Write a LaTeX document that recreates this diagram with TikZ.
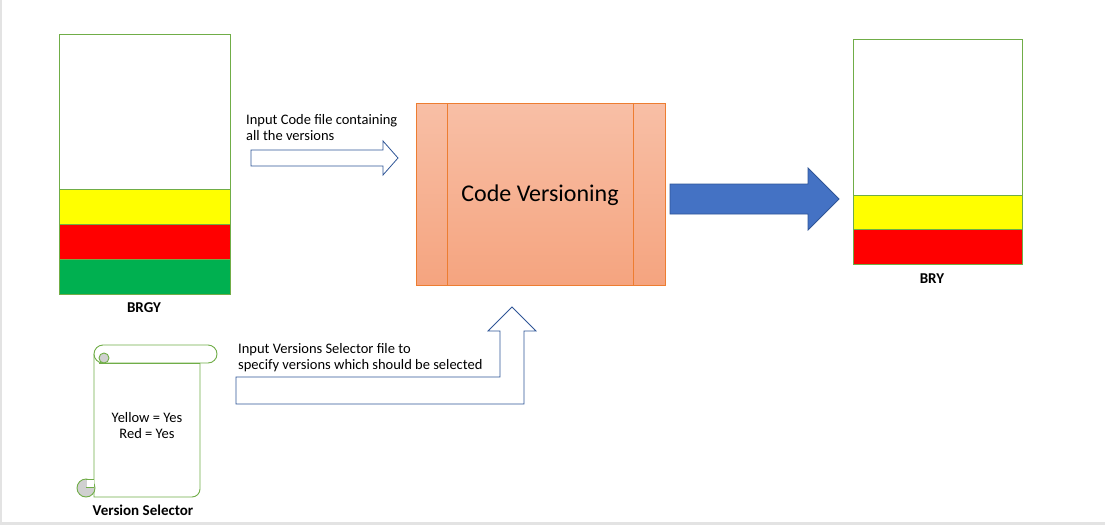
\documentclass[tikz,border=0pt]{standalone}
\usepackage{fontspec}
\setmainfont{Carlito}
\definecolor{boxgreen}{HTML}{70AD47}
\definecolor{cyel}{HTML}{FFFF00}
\definecolor{cred}{HTML}{FF0000}
\definecolor{cgreen}{HTML}{00B050}
\definecolor{procline}{HTML}{ED7D31}
\definecolor{proctop}{HTML}{F8BFA6}
\definecolor{procbot}{HTML}{F5A47F}
\definecolor{blueline}{HTML}{2F5597}
\definecolor{bluefill}{HTML}{4472C4}
\definecolor{curlgray}{HTML}{D0D0D0}
\definecolor{edgegray}{HTML}{E3E3E3}
\begin{document}
\begin{tikzpicture}[x=1pt,y=-1pt,
  filebox/.style={draw=boxgreen,line width=0.8pt},
  band/.style={draw=boxgreen,line width=0.8pt},
  lbl/.style={font=\fontsize{15}{17}\selectfont\bfseries,inner sep=0pt},
  txt/.style={font=\fontsize{14.5}{16}\selectfont,inner sep=0pt,align=left},
  outarrow/.style={draw=blueline,line width=0.8pt,fill=white,line join=miter},
  scrollline/.style={draw=boxgreen,line width=0.9pt}]
\useasboundingbox (0,0) rectangle (1105,525);
\fill[white] (0,0) rectangle (1105,525);
% screenshot edges
\fill[edgegray] (0,0) rectangle (2,525);
\fill[edgegray] (0,522) rectangle (1105,525);

% left file BRGY
\draw[filebox,fill=white] (59,34) rectangle (230,189);
\draw[band,fill=cyel] (59,189) rectangle (230,224);
\draw[band,fill=cred] (59,224) rectangle (230,259);
\draw[band,fill=cgreen] (59,259) rectangle (230,294);
\node[lbl] (brgy) at (144,308) {BRGY};

% right file BRY
\draw[filebox,fill=white] (853,39) rectangle (1022,195);
\draw[band,fill=cyel] (853,195) rectangle (1022,229);
\draw[band,fill=cred] (853,229) rectangle (1022,264);
\node[lbl] (bry) at (932,279) {BRY};

% process box
\shade[top color=proctop,bottom color=procbot] (416,103) rectangle (665,285);
\draw[procline,line width=0.8pt] (416,103) rectangle (665,285);
\draw[procline,line width=0.8pt] (447,103) -- (447,285);
\draw[procline,line width=0.8pt] (633,103) -- (633,285);
\node[font=\fontsize{24}{28}\selectfont,inner sep=0pt] (proc) at (540,195) {Code Versioning};

% input code arrow
\draw[outarrow] (251,150) -- (383,150) -- (383,141) -- (398,158) -- (383,175) -- (383,166) -- (251,166) -- cycle;
\node[txt,anchor=north west] (t1) at (246,114) {Input Code file containing\\all the versions};

% output blue arrow
\draw[draw=blueline,fill=bluefill,line width=0.8pt] (670,184) -- (808,184) -- (808,168) -- (839,199) -- (808,230) -- (808,214) -- (670,214) -- cycle;

% bent up arrow
\draw[outarrow] (236,377) -- (500,377) -- (500,331) -- (488,331) -- (512,307) -- (536,331) -- (524,331) -- (524,404) -- (236,404) -- cycle;
\node[txt,anchor=north west] (t2) at (238,343) {Input Versions Selector file to\\specify versions which should be selected};

% scroll
\draw[scrollline,fill=white] (94,354) -- (94,497) -- (192,497) arc[start angle=90,end angle=0,radius=8] -- (200,363);
\draw[scrollline,fill=white,rounded corners=9pt] (94,345) rectangle (217,363);
\draw[scrollline,fill=curlgray] (104,358) circle[radius=5];
\draw[scrollline] (99,363) -- (200,363);
\draw[scrollline,fill=curlgray] (86,488) circle[radius=9];
\fill[white] (86.5,479.5) rectangle (93.5,487);
\draw[scrollline] (86,479) -- (94,479);
\draw[scrollline] (86,487) -- (94,487);
\node[txt,align=center] (sel) at (147,426) {Yellow = Yes\\Red = Yes};
\node[font=\fontsize{15}{17}\selectfont\bfseries,inner sep=0pt] (vs) at (143,510) {Version Selector};
\end{tikzpicture}
\end{document}
